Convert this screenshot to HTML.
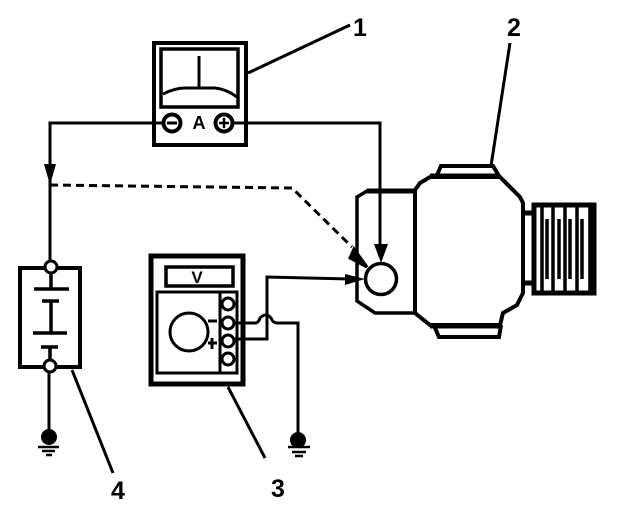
<!DOCTYPE html>
<html><head><meta charset="utf-8"><style>
html,body{margin:0;padding:0;background:#fff}
svg{display:block}
text{font-family:"Liberation Sans",sans-serif;fill:#000}
</style></head><body>
<svg width="640" height="522" viewBox="0 0 640 522" fill="none" stroke="#000" stroke-linejoin="miter">
<!-- ammeter -->
<rect x="154" y="43" width="92" height="102" stroke-width="4"/>
<rect x="161" y="49" width="77" height="58" stroke-width="3.5"/>
<path d="M199 56V88" stroke-width="3"/>
<path d="M163 94Q175 88 185 88H215Q226 89 237 97" stroke-width="3"/>
<circle cx="172" cy="123" r="8.5" stroke-width="4" fill="#fff"/>
<path d="M167 123H177" stroke-width="3"/>
<circle cx="224" cy="123" r="8.5" stroke-width="4" fill="#fff"/>
<path d="M219 123H229M224 118V128" stroke-width="2.5"/>
<text x="199" y="129" font-size="18" font-weight="bold" text-anchor="middle" stroke="none">A</text>
<!-- wires from ammeter -->
<path d="M164 123H50V263" stroke-width="3"/>
<path d="M232 123H380V246" stroke-width="3"/>
<path d="M44 164H56L50 185Z" fill="#000" stroke="none"/>
<path d="M374 244H388L381 263Z" fill="#000" stroke="none"/>
<!-- dashed -->
<path d="M50 185L292 188L352 247" stroke-width="3" stroke-dasharray="8 5"/>
<path d="M354 249L367 267L350 258Z" fill="#000" stroke="#000" stroke-width="3"/>
<!-- generator -->
<path d="M415 191H367L357 197V301L375 313H414" stroke-width="3.5"/>
<path d="M367 191H415" stroke-width="5"/>
<path d="M415 190L420 183L430 177H500L520 197L523 203V293L517 305L503 313L500 325H430L415 313Z" stroke-width="4"/>
<path d="M437 175L441 166H493L499 176" stroke-width="4"/>
<path d="M435 328L439 337H499L501 325" stroke-width="4"/>
<path d="M430 176H500M430 326H500" stroke-width="5"/>
<path d="M523 213H533M523 283H533" stroke-width="5"/>
<rect x="534" y="205" width="60" height="88" stroke-width="5"/>
<path d="M542 205V293M553 205V293M565 205V293M577 205V293M590 205V293" stroke-width="3.5"/>
<path d="M547 219V279M559 219V279M570 219V279M582 219V279" stroke-width="3.5"/>
<circle cx="381" cy="279" r="15.5" stroke-width="3.5" fill="#fff"/>
<!-- voltmeter -->
<rect x="151" y="256" width="92" height="128" stroke-width="5"/>
<rect x="166" y="267" width="67" height="19" stroke-width="3.5"/>
<text x="197" y="283" font-size="17" font-weight="bold" text-anchor="middle" stroke="none">V</text>
<rect x="157" y="292" width="80" height="81" stroke-width="3"/>
<path d="M220 292V373" stroke-width="3"/>
<circle cx="228" cy="304" r="6" stroke-width="3" fill="#fff"/>
<circle cx="228" cy="323" r="6" stroke-width="3" fill="#fff"/>
<circle cx="228" cy="341" r="6" stroke-width="3" fill="#fff"/>
<circle cx="228" cy="359" r="6" stroke-width="3" fill="#fff"/>
<circle cx="189" cy="332" r="19" stroke-width="3"/>
<path d="M208 321H217M208 343H217M212 338V349" stroke-width="3"/>
<!-- voltmeter wires -->
<path d="M234 339H267V277L350 279" stroke-width="3"/>
<path d="M345 274L365 279L345 285Z" fill="#000" stroke="none"/>
<path d="M234 323H256Q259 322 260 318Q266 312 271 318Q273 323 277 323H298V435" stroke-width="3"/>
<!-- ground right -->
<circle cx="298" cy="440" r="8" fill="#000" stroke="none"/>
<path d="M288 447H310M292 452H306M295 456H303" stroke-width="2.5"/>
<!-- battery -->
<rect x="20" y="268" width="60" height="99" stroke-width="4"/>
<path d="M51 272V289M34 289H69M42 301H59M51 301V333M33 333H67M41 347H58M50 347V361" stroke-width="3.5"/>
<circle cx="51" cy="267" r="6" stroke-width="3" fill="#fff"/>
<circle cx="50" cy="366" r="6" stroke-width="3" fill="#fff"/>
<path d="M49 372V432" stroke-width="3"/>
<circle cx="49" cy="437" r="8" fill="#000" stroke="none"/>
<path d="M38 447H59M42 451H55M46 455H52" stroke-width="2.5"/>
<!-- leaders -->
<path d="M248 73L350 25" stroke-width="3"/>
<path d="M491 166L510 43" stroke-width="3"/>
<path d="M228 387L265 458" stroke-width="3"/>
<path d="M72 370L113 473" stroke-width="3"/>
<!-- labels -->
<g font-size="25" font-weight="bold" text-anchor="middle" stroke="none">
<text x="360" y="36" fill="#000">1</text>
<text x="514" y="36" fill="#000">2</text>
<text x="278" y="497" fill="#000">3</text>
<text x="118" y="499" fill="#000">4</text>
</g>
</svg>
</body></html>
